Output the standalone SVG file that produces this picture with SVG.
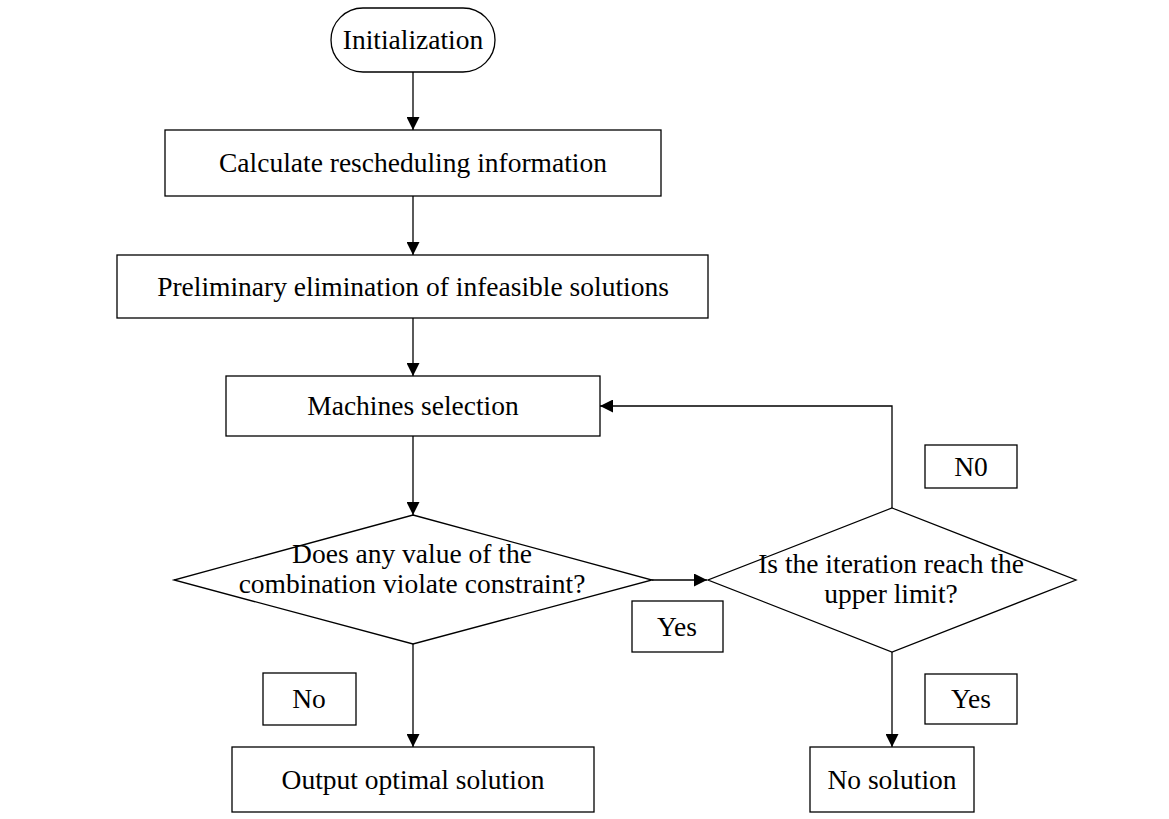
<svg xmlns="http://www.w3.org/2000/svg" width="1169" height="819" viewBox="0 0 1169 819">
<defs>
<marker id="arr" markerUnits="userSpaceOnUse" markerWidth="14" markerHeight="13" refX="13" refY="6.5" orient="auto">
<path d="M0,0 L13,6.5 L0,13 z" fill="#000"/>
</marker>
<style>
.box{fill:#fff;stroke:#000;stroke-width:1.3}
.lbl{fill:#fff;stroke:#000;stroke-width:1.3}
.t{font-family:"Liberation Serif","Times New Roman",serif;font-size:27.5px;fill:#000;text-anchor:middle}
.c{fill:none;stroke:#000;stroke-width:1.3}
</style>
</defs>
<rect width="1169" height="819" fill="#fff"/>
<g id="connectors">
<line class="c" x1="413" y1="72" x2="413" y2="130" marker-end="url(#arr)"/>
<line class="c" x1="413" y1="196" x2="413" y2="255" marker-end="url(#arr)"/>
<line class="c" x1="413" y1="318" x2="413" y2="376" marker-end="url(#arr)"/>
<line class="c" x1="413" y1="436" x2="413" y2="515" marker-end="url(#arr)"/>
<line class="c" x1="652" y1="580" x2="707" y2="580" marker-end="url(#arr)"/>
<polyline class="c" points="892,508 892,406 600,406" marker-end="url(#arr)"/>
<line class="c" x1="413" y1="644" x2="413" y2="747" marker-end="url(#arr)"/>
<line class="c" x1="892" y1="652" x2="892" y2="747" marker-end="url(#arr)"/>
</g>
<g id="init">
<rect class="box" x="331" y="8" width="164" height="64" rx="32" ry="32"/>
<text class="t" x="413" y="49">Initialization</text>
</g>
<g id="calc">
<rect class="box" x="165" y="130" width="496" height="66"/>
<text class="t" x="413" y="172">Calculate rescheduling information</text>
</g>
<g id="prelim">
<rect class="box" x="117" y="255" width="591" height="63"/>
<text class="t" x="413" y="296">Preliminary elimination of infeasible solutions</text>
</g>
<g id="machines">
<rect class="box" x="226" y="376" width="374" height="60"/>
<text class="t" x="413" y="415">Machines selection</text>
</g>
<g id="decision1">
<polygon class="box" points="413,515 652,580 413,644 174,580"/>
<text class="t" x="412" y="563">Does any value of the</text>
<text class="t" x="412" y="593">combination violate constraint?</text>
</g>
<g id="decision2">
<polygon class="box" points="892,508 1076,580 892,652 708,580"/>
<text class="t" x="891" y="573">Is the iteration reach the</text>
<text class="t" x="891" y="603">upper limit?</text>
</g>
<g id="label-n0">
<rect class="lbl" x="925" y="445" width="92" height="43"/>
<text class="t" x="971" y="476">N0</text>
</g>
<g id="label-yes1">
<rect class="lbl" x="632" y="601" width="91" height="51"/>
<text class="t" x="677" y="636">Yes</text>
</g>
<g id="label-no">
<rect class="lbl" x="263" y="673" width="93" height="52"/>
<text class="t" x="309" y="708">No</text>
</g>
<g id="label-yes2">
<rect class="lbl" x="925" y="674" width="92" height="50"/>
<text class="t" x="971" y="708">Yes</text>
</g>
<g id="output">
<rect class="box" x="232" y="747" width="362" height="65"/>
<text class="t" x="413" y="789">Output optimal solution</text>
</g>
<g id="nosolution">
<rect class="box" x="810" y="747" width="164" height="65"/>
<text class="t" x="892" y="789">No solution</text>
</g>
</svg>
